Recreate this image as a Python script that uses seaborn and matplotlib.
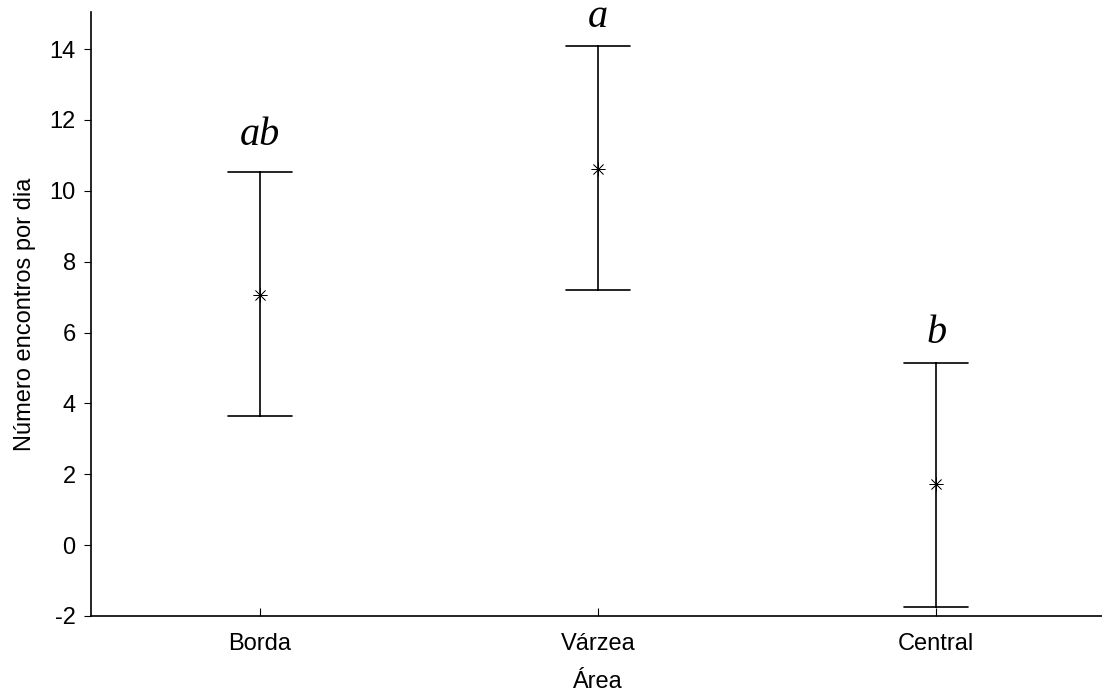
import pandas as pd
import matplotlib
matplotlib.use("Agg")
import matplotlib.pyplot as plt
import seaborn as sns

areas = ["Borda", "Várzea", "Central"]
means = [7.06, 10.63, 1.72]
lower = [3.64, 7.20, -1.75]
upper = [10.52, 14.08, 5.14]
letters = ["ab", "a", "b"]
letter_y = [11.29, 14.62, 5.70]

# three rows per area: lower, mean, upper -> median = mean, min/max = interval
rows = []
for a, lo, m, hi in zip(areas, lower, means, upper):
    for v in (lo, m, hi):
        rows.append({"Área": a, "valor": v})
df = pd.DataFrame(rows)

sns.set_style("ticks")
plt.rcParams["font.family"] = ["Liberation Sans", "DejaVu Sans"]
plt.rcParams["axes.unicode_minus"] = False
plt.rcParams["text.color"] = "black"
plt.rcParams["axes.labelcolor"] = "black"
plt.rcParams["xtick.color"] = "black"
plt.rcParams["ytick.color"] = "black"

fig = plt.figure(figsize=(11.02, 7.0), dpi=100)
ax = fig.add_axes([0.0826, 0.12, 0.9174, 0.863])

sns.pointplot(data=df, x="Área", y="valor", order=areas,
              estimator="median", errorbar=lambda x: (x.min(), x.max()),
              capsize=0.19, linestyle="none", color="black",
              markers=(8, 2, 0), markersize=10, markeredgewidth=0.5,
              err_kws={"linewidth": 1.2}, ax=ax)

for i, (t, yy) in enumerate(zip(letters, letter_y)):
    ax.text(i, yy, t, ha="center", va="baseline", fontsize=29,
            family=["Liberation Serif", "DejaVu Serif"], style="italic")

ax.set_xlim(-0.5, 2.49)
ax.set_ylim(-2, 15.05)
ax.set_yticks(range(-2, 15, 2))
ax.set_xlabel("Área", fontsize=17, labelpad=12)
ax.set_ylabel("Número encontros por dia", fontsize=17, labelpad=10)
ax.tick_params(axis="x", direction="in", length=6, labelsize=17, pad=12)
ax.tick_params(axis="y", direction="out", length=5, labelsize=17, pad=6)
for s in ("top", "right"):
    ax.spines[s].set_visible(False)
for s in ("left", "bottom"):
    ax.spines[s].set_color("black")
    ax.spines[s].set_linewidth(1.2)

fig.savefig("out.png", dpi=100)
